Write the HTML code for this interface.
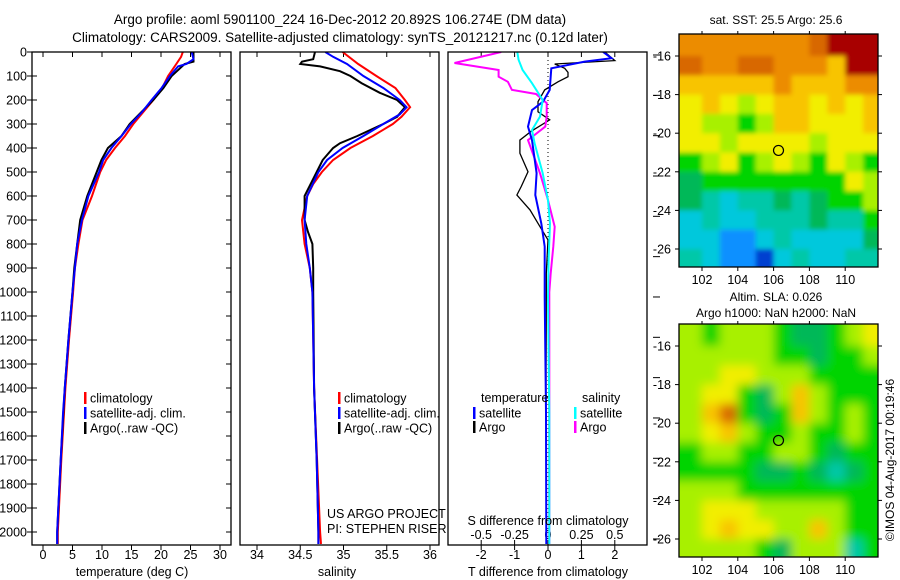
<!DOCTYPE html>
<html><head><meta charset="utf-8"><style>
body{margin:0;background:#fff;}
svg{display:block;font-family:"Liberation Sans",sans-serif;}
text{fill:#000;}
</style></head><body>
<svg id="fig" width="900" height="580" viewBox="0 0 900 580">
<defs>
<filter id="blur1" filterUnits="userSpaceOnUse" x="660" y="10" width="240" height="280"><feGaussianBlur stdDeviation="2.5"/></filter>
<filter id="blur2" filterUnits="userSpaceOnUse" x="660" y="300" width="240" height="280"><feGaussianBlur stdDeviation="5"/></filter>
<clipPath id="c1"><rect x="679" y="34" width="199" height="233"/></clipPath>
<clipPath id="c2"><rect x="679" y="324" width="199" height="233"/></clipPath>
<clipPath id="p1"><rect x="32" y="52" width="199" height="493"/></clipPath>
<clipPath id="p2"><rect x="240" y="52" width="199" height="493"/></clipPath>
<clipPath id="p3"><rect x="448" y="52" width="198" height="493"/></clipPath>
</defs>
<text x="340" y="24" text-anchor="middle" font-size="13.5">Argo profile: aoml 5901100_224 16-Dec-2012 20.892S 106.274E (DM data)</text>
<text x="340" y="42" text-anchor="middle" font-size="13.5">Climatology: CARS2009. Satellite-adjusted climatology: synTS_20121217.nc (0.12d later)</text>
<g id="g1"></g>
<g id="g2"></g>
<g id="g3"></g>
<g id="m1"></g>
<g id="m2"></g>
<text x="776" y="24" text-anchor="middle" font-size="12">sat. SST: 25.5 Argo: 25.6</text>
<text x="776" y="301" text-anchor="middle" font-size="12">Altim. SLA: 0.026</text>
<text x="776" y="317" text-anchor="middle" font-size="12">Argo h1000: NaN h2000: NaN</text>
<text transform="translate(894,460) rotate(-90)" text-anchor="middle" font-size="12">©IMOS 04-Aug-2017 00:19:46</text>
</svg>
<script>
// ---- data ----
const depthTicks=[0,100,200,300,400,500,600,700,800,900,1000,1100,1200,1300,1400,1500,1600,1700,1800,1900,2000];
const tempTicks=[0,5,10,15,20,25,30];
const salTicks=[34,34.5,35,35.5,36];
const salTickLabels=["34","34.5","35","35.5","36"];
const tdTicks=[-2,-1,0,1,2];
const sdTicks=[-0.5,-0.25,0,0.25,0.5];
const sdTickLabels=["-0.5","-0.25","0","0.25","0.5"];

const tClimDepth=[0,20,50,100,150,200,250,300,350,400,450,500,600,700,800,900,1000,1200,1400,1700,2000,2050];
const tClim=[23.7,23.4,22.6,21.2,20.2,18.7,17,15.3,13.9,12.2,10.7,9.7,8.3,6.7,6,5.4,5.1,4.4,3.8,3.1,2.5,2.5];
const tSatDepth=[0,30,50,60,100,150,200,250,300,350,400,450,500,600,700,800,900,1000,1200,1400,1500,1700,1900,2000,2050];
const tSat=[25.2,25.5,24.3,22.9,21.5,20.1,18.4,16.8,14.9,13.3,11.6,10.2,9.5,7.7,6.6,5.8,5.4,5.0,4.3,3.7,3.4,3.0,2.6,2.4,2.4];
const tArgoDepth=[0,40,50,100,150,200,300,350,400,450,500,550,600,700,800,900,1000,1200,1400,1700,2000,2050];
const tArgo=[25.5,25.5,24,21.8,20.4,18.7,14.7,13.3,11,9.9,9.1,8.3,7.5,6.3,5.8,5.3,5.0,4.3,3.7,3.0,2.4,2.4];

const sClimDepth=[0,50,100,150,200,230,270,300,350,400,450,500,550,600,700,800,900,1000,1400,2000,2050];
const sClim=[34.99,35.17,35.38,35.6,35.71,35.77,35.67,35.57,35.34,35.08,34.88,34.75,34.65,34.58,34.52,34.55,34.61,34.64,34.66,34.73,34.74];
const sSatDepth=[0,20,50,100,150,200,230,260,300,350,400,450,500,600,700,800,900,1000,1400,1700,2000,2050];
const sSat=[34.79,34.88,35.04,35.23,35.46,35.65,35.73,35.65,35.46,35.23,34.99,34.81,34.71,34.58,34.55,34.57,34.61,34.64,34.66,34.69,34.71,34.71];
const sArgoDepth=[0,30,40,50,60,80,100,130,170,200,230,270,300,350,380,400,450,500,600,700,750,800,900,1000,1400,1700,2000,2050];
const sArgo=[34.67,34.65,34.52,34.5,34.73,34.96,35.08,35.21,35.42,35.62,35.71,35.62,35.46,35.16,34.96,34.88,34.76,34.69,34.55,34.55,34.59,34.64,34.65,34.65,34.66,34.69,34.71,34.71];

const dtArgoDepth=[0,36,50,68,85,103,124,158,207,249,283,330,367,422,499,560,596,658,728,783,922,1000,1500,2050];
const dtArgo=[1.7,2.0,0.2,0.5,0.6,0.6,0.3,-0.1,-0.3,-0.3,0.05,-0.5,-0.84,-0.84,-0.6,-0.8,-0.93,-0.54,-0.24,0,-0.05,-0.05,-0.06,-0.05];
const dtSatDepth=[0,26,40,68,158,207,242,311,367,505,596,714,811,1019,1500,2050];
const dtSat=[1.65,1.9,1.1,0.1,0.05,-0.15,-0.48,-0.6,-0.48,-0.34,-0.38,-0.2,-0.1,-0.1,-0.06,-0.05];
const dsSatDepth=[0,33,75,130,200,269,325,380,505,617,714,853,1019,1500,2050];
const dsSat=[-0.23,-0.22,-0.19,-0.12,-0.04,-0.06,-0.12,-0.1,-0.04,0,0.015,0.005,0.0,0.01,0.01];
const dsArgoDepth=[0,46,75,103,124,158,175,213,269,311,367,505,617,728,811,922,1000,1500,2050];
const dsArgo=[-0.35,-0.7,-0.37,-0.37,-0.3,-0.27,-0.09,-0.01,-0.01,-0.02,-0.15,-0.06,0.0,0.05,0.04,0.02,0.01,0.01,0.01];

// map colour grids (rows top->bottom: lat -15..-27, cols lon 101..112)
const sstGrid=["OOOOOOOoRRR","oOOooOOOyRR","yyyyyOyyyOO","YyYLYyyYyYy","YLLGLyyYYYy","YYLYYYYLYYY","GLYGLYLGYLG","gGGGGGGGGYL","gCcCCgCgGGL","cCccCCCgCCG","ccBBcCccccg","CcBBDcCccCC"];
const slaGrid=["LGLLLGggGLY","LLLLLGGgGGL","LLYYLLLGGGG","LYYGgLyLGGG","LyoGgGyLGLG","LYyLGGLGGLG","GLLGGLLGgGG","GGGGggGgCgG","LLLGGGGGGGG","LYYYLLLLLGG","LYyYYLLyLGG","LLLLGgLLLCG"];
const palette={R:"#a80000",o:"#d86800",O:"#ec8c00",y:"#f8c400",Y:"#f2ee00",L:"#a8f000",G:"#00d400",g:"#00b858",C:"#00c8a8",c:"#00c8dc",B:"#1090ff",D:"#0040d0"};
const mapLon=[102,104,106,108,110];
const mapLat=[-16,-18,-20,-22,-24,-26];
const argoLon=106.274, argoLat=-20.892;

// ---- helpers ----
const NS="http://www.w3.org/2000/svg";
function mk(parent,tag,attrs){const e=document.createElementNS(NS,tag);for(const k in attrs)e.setAttribute(k,attrs[k]);parent.appendChild(e);return e;}
const Y0=52, PY=0.24;
const yD=d=>Y0+d*PY;
const xT=t=>43+t*5.9;
const xS=s=>257+(s-34)*86.5;
const xDT=v=>548+v*33.4;
const xDS=v=>548+v*133.6;

function line(g,depths,vals,xf,color,name,w,clip){
  const pts=depths.map((d,i)=>xf(vals[i]).toFixed(1)+","+yD(d).toFixed(1)).join(" ");
  const p=mk(g,"polyline",{points:pts,fill:"none",stroke:color,"stroke-width":w||2,"clip-path":"url(#"+clip+")"});
  
  
}
function frame(g,x,name){
  const r=mk(g,"rect",{x:x,y:52,width:199,height:493,fill:"none",stroke:"#000","stroke-width":1.3});
  
  
}
function legend(g,x,y,color,label,name){
  mk(g,"rect",{x:x,y:y-6,width:2.5,height:12,fill:color});
  const t=mk(g,"text",{x:x+6,y:y+4.5,"font-size":12.5});
  t.textContent=label;
  
  
}

// ---- panel 1: temperature ----
const g1=document.getElementById("g1");
depthTicks.forEach(d=>{
  mk(g1,"line",{x1:27,x2:37,y1:yD(d),y2:yD(d),stroke:"#000"});
  mk(g1,"line",{x1:226,x2:231,y1:yD(d),y2:yD(d),stroke:"#000"});
  const t=mk(g1,"text",{x:27,y:yD(d)+4.5,"text-anchor":"end","font-size":12.5});
  t.textContent=d;
  
  
});
tempTicks.forEach(v=>{
  mk(g1,"line",{x1:xT(v),x2:xT(v),y1:52,y2:57,stroke:"#000"});
  mk(g1,"line",{x1:xT(v),x2:xT(v),y1:545,y2:550,stroke:"#000"});
  const t=mk(g1,"text",{x:xT(v),y:559,"text-anchor":"middle","font-size":12.5});
  t.textContent=v;
  
  
});
line(g1,tClimDepth,tClim,xT,"#f00","temp-climatology-line",2,"p1");
line(g1,tArgoDepth,tArgo,xT,"#000","temp-argo-line",2,"p1");
line(g1,tSatDepth,tSat,xT,"#00f","temp-satellite-line",2,"p1");
frame(g1,32,"temperature-plot-frame");
legend(g1,84,398,"#f00","climatology","legend-climatology");
legend(g1,84,413,"#00f","satellite-adj. clim.","legend-satellite");
legend(g1,84,428,"#000","Argo(..raw -QC)","legend-argo");
{const t=mk(g1,"text",{x:132,y:576,"text-anchor":"middle","font-size":12.5});t.textContent="temperature (deg C)";

}

// ---- panel 2: salinity ----
const g2=document.getElementById("g2");
salTicks.forEach((v,i)=>{
  mk(g2,"line",{x1:xS(v),x2:xS(v),y1:52,y2:57,stroke:"#000"});
  mk(g2,"line",{x1:xS(v),x2:xS(v),y1:545,y2:550,stroke:"#000"});
  const t=mk(g2,"text",{x:xS(v),y:559,"text-anchor":"middle","font-size":12.5});
  t.textContent=salTickLabels[i];
  
  
});
line(g2,sClimDepth,sClim,xS,"#f00","sal-climatology-line",2,"p2");
line(g2,sArgoDepth,sArgo,xS,"#000","sal-argo-line",2,"p2");
line(g2,sSatDepth,sSat,xS,"#00f","sal-satellite-line",2,"p2");
frame(g2,240,"salinity-plot-frame");
legend(g2,338,398,"#f00","climatology","legend-climatology-2");
legend(g2,338,413,"#00f","satellite-adj. clim.","legend-satellite-2");
legend(g2,338,428,"#000","Argo(..raw -QC)","legend-argo-2");
{let t=mk(g2,"text",{x:327,y:518,"font-size":12.5});t.textContent="US ARGO PROJECT";


t=mk(g2,"text",{x:327,y:533,"font-size":12.5});t.textContent="PI: STEPHEN RISER";


t=mk(g2,"text",{x:337,y:576,"text-anchor":"middle","font-size":12.5});t.textContent="salinity";

}

// ---- panel 3: differences ----
const g3=document.getElementById("g3");
mk(g3,"line",{x1:548,x2:548,y1:52,y2:545,stroke:"#000","stroke-dasharray":"1,3"});
tdTicks.forEach(v=>{
  mk(g3,"line",{x1:xDT(v),x2:xDT(v),y1:52,y2:57,stroke:"#000"});
  mk(g3,"line",{x1:xDT(v),x2:xDT(v),y1:545,y2:550,stroke:"#000"});
  const t=mk(g3,"text",{x:xDT(v),y:559,"text-anchor":"middle","font-size":12.5});
  t.textContent=v;
  
  
});
sdTicks.forEach((v,i)=>{
  mk(g3,"line",{x1:xDS(v),x2:xDS(v),y1:540,y2:545,stroke:"#000"});
  const t=mk(g3,"text",{x:xDS(v),y:539,"text-anchor":"middle","font-size":12.5});
  t.textContent=sdTickLabels[i];
  
  
});
for(let i=0;i<13;i++){const y=55+i*40.33;mk(g3,"line",{x1:653,x2:660,y1:y,y2:y,stroke:"#000"});}
line(g3,dtArgoDepth,dtArgo,xDT,"#000","tdiff-argo-line",1.3,"p3");
line(g3,dsArgoDepth,dsArgo,xDS,"#f0f","sdiff-argo-line",2,"p3");
line(g3,dtSatDepth,dtSat,xDT,"#00f","tdiff-satellite-line",2,"p3");
line(g3,dsSatDepth,dsSat,xDS,"#0ff","sdiff-satellite-line",2,"p3");
frame(g3,448,"difference-plot-frame");
{let t=mk(g3,"text",{x:481,y:402,"font-size":12.5});t.textContent="temperature";


t=mk(g3,"text",{x:582,y:402,"font-size":12.5});t.textContent="salinity";

}
legend(g3,473,413,"#00f","satellite","legend-t-satellite");
legend(g3,473,427,"#000","Argo","legend-t-argo");
legend(g3,574,413,"#0ff","satellite","legend-s-satellite");
legend(g3,574,427,"#f0f","Argo","legend-s-argo");
{let t=mk(g3,"text",{x:548,y:525,"text-anchor":"middle","font-size":12.5});t.textContent="S difference from climatology";


t=mk(g3,"text",{x:548,y:576,"text-anchor":"middle","font-size":12.5});t.textContent="T difference from climatology";

}

// ---- maps ----
function drawMap(id,grid,top,clip,name,filt){
  const g=document.getElementById(id);
  const xL=lon=>702+(lon-102)*17.9;
  const yL=lat=>top+22+(-16-lat)*19.3;
  const img=mk(g,"g",{"clip-path":"url(#"+clip+")"});
  const inner=mk(img,"g",{filter:"url(#"+filt+")"});
  const x0=xL(101),y0=yL(-15),cw=17.9,ch=19.3;
  grid.forEach((row,r)=>{row.split("").forEach((c,k)=>{
    const cell=mk(inner,"rect",{x:(x0+k*cw-(k==0?20:0)).toFixed(1),y:(y0+r*ch-(r==0?20:0)).toFixed(1),width:(cw+0.6+(k==0?20:0)+(k==row.length-1?20:0)).toFixed(1),height:(ch+0.6+(r==0?20:0)+(r==grid.length-1?20:0)).toFixed(1),fill:palette[c]});
    
    
  });});
  const f=mk(g,"rect",{x:679,y:top,width:199,height:233,fill:"none",stroke:"#000","stroke-width":1.3});
  
  
  mapLon.forEach(l=>{
    mk(g,"line",{x1:xL(l),x2:xL(l),y1:top-3,y2:top,stroke:"#000"});
    mk(g,"line",{x1:xL(l),x2:xL(l),y1:top+233,y2:top+237,stroke:"#000"});
    const t=mk(g,"text",{x:xL(l),y:top+250,"text-anchor":"middle","font-size":12.5});
    t.textContent=l;
    
    
  });
  mapLat.forEach(l=>{
    mk(g,"line",{x1:675,x2:679,y1:yL(l),y2:yL(l),stroke:"#000"});
    mk(g,"line",{x1:878,x2:882,y1:yL(l),y2:yL(l),stroke:"#000"});
    const t=mk(g,"text",{x:671,y:yL(l)+4.5,"text-anchor":"end","font-size":12.5});
    t.textContent=l;
    
    
  });
  const c=mk(g,"circle",{cx:xL(argoLon),cy:yL(argoLat),r:5,fill:"none",stroke:"#000","stroke-width":1.2});
  
  
}
drawMap("m1",sstGrid,34,"c1","sst-map","blur1");
drawMap("m2",slaGrid,324,"c2","sla-map","blur2");
</script>
</body></html>
